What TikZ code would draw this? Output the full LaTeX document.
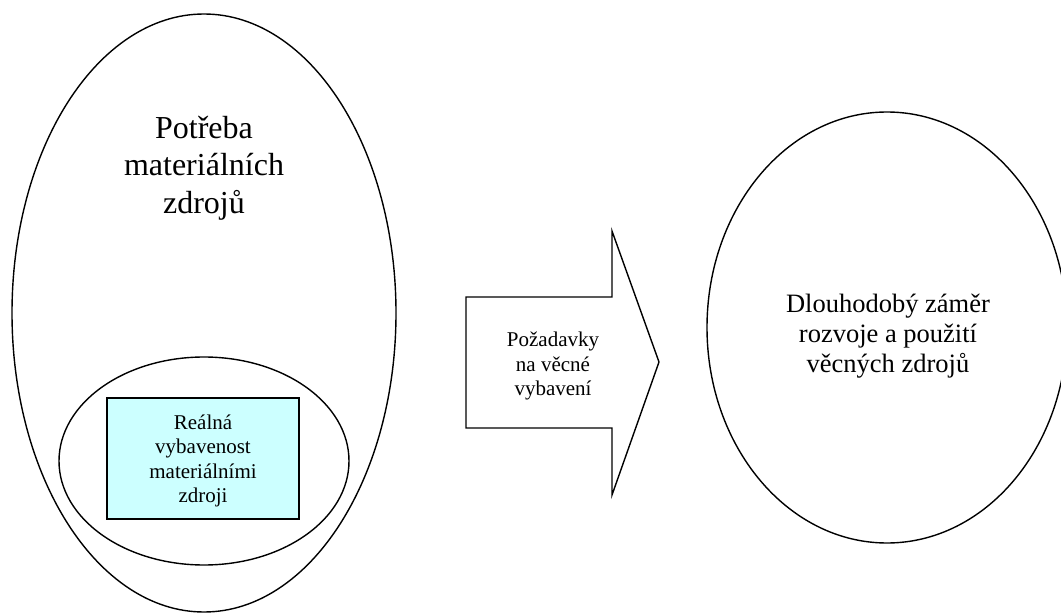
\documentclass[tikz,border=0pt]{standalone}
\usepackage{fontspec}
\setmainfont{Liberation Serif}
\usetikzlibrary{shapes.geometric}
\definecolor{boxcyan}{HTML}{CCFFFF}
\begin{document}
\begin{tikzpicture}[x=1pt,y=-1pt,
  outline/.style={draw=black, line width=1.4pt},
  oval/.style={outline, ellipse, inner sep=0pt, outer sep=0pt},
  label/.style={align=center, inner sep=0pt, text=black},
  bigtext/.style={label, font=\fontsize{32}{37.5}\selectfont},
  midtext/.style={label, font=\fontsize{26.5}{30}\selectfont},
  smalltext/.style={label, font=\fontsize{21}{24.3}\selectfont},
  realbox/.style={draw=black, line width=1.9pt, fill=boxcyan,
    minimum width=192pt, minimum height=121pt, inner sep=0pt}]
  \useasboundingbox (0,0) rectangle (1061,615);
  \fill[white] (0,0) rectangle (1061,615);

  % left: needs, with the existing equipment inside
  \node[oval, minimum width=384pt, minimum height=598pt] (needs) at (204,313) {};
  \node[bigtext] (needstext) at (204,168) {Potřeba\\materiálních\\zdrojů};
  \node[oval, minimum width=290pt, minimum height=208pt] (real) at (204,461) {};
  \node[realbox] (realrect) at (203,458.5) {};
  \node[smalltext] (realtext) at (203,461) {Reálná\\vybavenost\\materiálními\\zdroji};

  % middle: block arrow with the requirements
  \coordinate (tail) at (466,362);
  \coordinate (tip) at (659,362);
  \draw[outline, fill=white, line join=miter]
    (466,297) -- (612,297) -- (612,231) -- (tip) -- (612,495)
    -- (612,428) -- (466,428) -- cycle;
  \node[smalltext] (reqtext) at (553,366) {Požadavky\\na věcné\\vybavení};

  % right: long-term plan
  \node[oval, minimum width=360pt, minimum height=431pt] (plan) at (887,327.5) {};
  \node[midtext] (plantext) at (888,336) {Dlouhodobý záměr\\rozvoje a použití\\věcných zdrojů};
\end{tikzpicture}
\end{document}
